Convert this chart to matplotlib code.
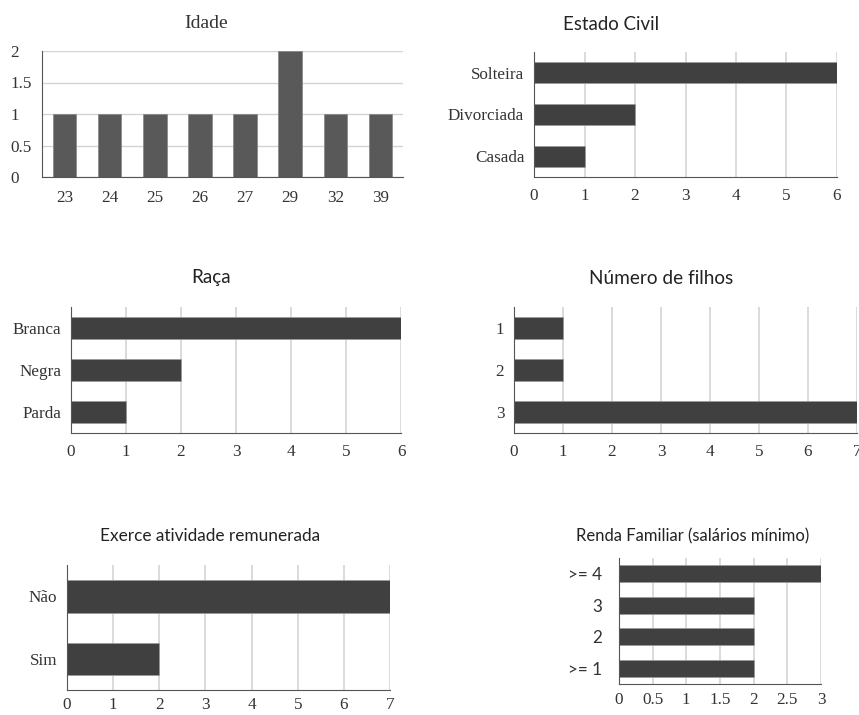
import numpy as np
import matplotlib.pyplot as plt

# data
idade_cat = ['23', '24', '25', '26', '27', '29', '32', '39']
idade_val = [1, 1, 1, 1, 1, 2, 1, 1]

civil_cat = ['Solteira', 'Divorciada', 'Casada']
civil_val = [6, 2, 1]

raca_cat = ['Branca', 'Negra', 'Parda']
raca_val = [6, 2, 1]

filhos_cat = ['1', '2', '3']
filhos_val = [1, 1, 7]

ativ_cat = ['Não', 'Sim']
ativ_val = [7, 2]

renda_cat = ['>= 4', '3', '2', '>= 1']
renda_val = [3, 2, 2, 2]

W, H = 859, 715
SERIF = ['Liberation Serif', 'DejaVu Serif']
SANS = ['Lato', 'DejaVu Sans']
TXT = '#333333'
BAR = '#404040'
GRID = '#d4d4d4'

fig = plt.figure(figsize=(W / 100, H / 100), dpi=100)


def px_axes(l, t, r, b):
    return fig.add_axes([l / W, 1 - b / H, (r - l) / W, (b - t) / H])


def style(ax):
    for s in ['top', 'right']:
        ax.spines[s].set_visible(False)
    ax.spines['left'].set_color('#555555')
    ax.spines['bottom'].set_color('#555555')
    ax.set_axisbelow(True)


def hbar(box, cats, vals, xmax, xticks, height, ylab_font=SERIF, ypad=7, xpad=8):
    ax = px_axes(*box)
    y = np.arange(len(cats))
    ax.barh(y, vals, height=height, color=BAR, edgecolor='#9a9a9a', linewidth=0.6)
    ax.set_ylim(len(cats) - 0.5, -0.5)
    ax.set_xlim(0, xmax)
    ax.set_yticks(y)
    ax.set_yticklabels(cats, family=ylab_font, fontsize=12.3, color=TXT)
    ax.set_xticks(xticks)
    ax.set_xticklabels([('%g' % v) for v in xticks], family=SERIF, fontsize=12.3, color=TXT)
    ax.tick_params(length=0)
    ax.tick_params(axis='y', pad=ypad)
    ax.tick_params(axis='x', pad=xpad)
    ax.xaxis.grid(True, color=GRID, linewidth=1.2)
    style(ax)
    return ax


# Idade
ax = px_axes(42, 51, 403, 177)
x = np.arange(len(idade_cat))
ax.bar(x, idade_val, width=0.52, color='#595959', edgecolor='#8a8a8a', linewidth=0.6)
ax.set_xlim(-0.5, len(idade_cat) - 0.5)
ax.set_ylim(0, 2)
ax.set_xticks(x)
ax.set_xticklabels(idade_cat, family=SERIF, fontsize=12.3, color=TXT)
ax.set_yticks([0, 0.5, 1, 1.5, 2])
ax.set_yticklabels(['0', '0.5', '1', '1.5', '2'], family=SERIF, fontsize=12.3, color=TXT, ha='left')
ax.tick_params(length=0)
ax.tick_params(axis='y', pad=23)
ax.tick_params(axis='x', pad=9)
ax.yaxis.grid(True, color=GRID, linewidth=1.0)
style(ax)

hbar((534, 52, 837, 177), civil_cat, civil_val, 6, range(0, 7), 0.5)
hbar((71, 307, 401, 433), raca_cat, raca_val, 6, range(0, 7), 0.52)
hbar((514, 307, 857, 433), filhos_cat, filhos_val, 7, range(0, 8), 0.52)
hbar((67, 565, 390, 690), ativ_cat, ativ_val, 7, range(0, 8), 0.52, xpad=5)
hbar((619, 558, 821, 684), renda_cat, renda_val, 3, [0, 0.5, 1, 1.5, 2, 2.5, 3], 0.55,
     ylab_font=SANS, ypad=12, xpad=6)

# titles
TC = '#222222'
fig.text(206 / W, 1 - 24 / H, 'Idade', family=SERIF, fontsize=14, color=TXT, ha='center', va='center')
fig.text(611 / W, 1 - 24 / H, 'Estado Civil', family=SANS, fontsize=13.4, color=TC, ha='center', va='center')
fig.text(211 / W, 1 - 278 / H, 'Raça', family=SANS, fontsize=13.6, color=TC, ha='center', va='center')
fig.text(661 / W, 1 - 278 / H, 'Número de filhos', family=SANS, fontsize=13.7, color=TC, ha='center', va='center')
fig.text(210 / W, 1 - 536 / H, 'Exerce atividade remunerada', family=SANS, fontsize=12.4, color=TC, ha='center', va='center')
fig.text(693 / W, 1 - 536 / H, 'Renda Familiar (salários mínimo)', family=SANS, fontsize=12.0, color=TC, ha='center', va='center')

fig.savefig('out.png', dpi=100)
